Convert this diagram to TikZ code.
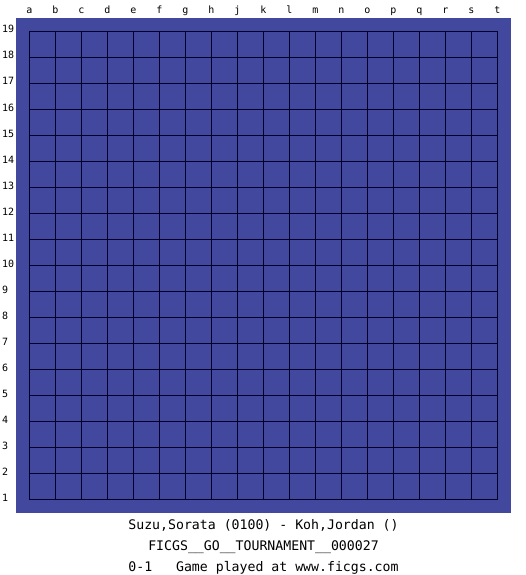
\documentclass[tikz,border=0pt]{standalone}
\usepackage{fontspec}
\setmonofont{DejaVu Sans Mono}
\usepackage{tikz}
\definecolor{boardblue}{RGB}{66,72,158}
\definecolor{gridnavy}{RGB}{0,0,40}
\tikzstyle{collabel}=[font=\ttfamily\fontsize{10}{10}\selectfont,anchor=base,inner sep=0pt]
\tikzstyle{rowlabel}=[font=\ttfamily\fontsize{10}{10}\selectfont,anchor=base west,inner sep=0pt]
\tikzstyle{caption}=[font=\ttfamily\fontsize{13.2}{13.2}\selectfont,anchor=base,inner sep=0pt]
\tikzstyle{gridline}=[gridnavy,line width=1pt]

\begin{document}
\begin{tikzpicture}[x=1pt,y=-1pt]
      \useasboundingbox (0,0) rectangle (525,575);

      % board
      \fill[boardblue] (16,18) rectangle (511,512.5);
      \foreach \i in {0,...,18} {
        \draw[gridline] (29.5+26*\i,31.5) -- (29.5+26*\i,499.5);
        \draw[gridline] (29.5,31.5+26*\i) -- (497.5,31.5+26*\i);
      }

      % coordinates
      \foreach \l [count=\i from 0] in {a,b,c,d,e,f,g,h,j,k,l,m,n,o,p,q,r,s,t}
        \node[collabel] (col-\l) at (29.5+26*\i,14) {\l};
      \foreach \r in {1,...,19}
        \node[rowlabel] (row-\r) at (2,501-26*\r+26) {\r};

      % game info
      \node[caption] (players) at (263.5,529.3) {Suzu,Sorata (0100) - Koh,Jordan ()};
      \node[caption] (event) at (263.5,550.7) {FICGS\_\_GO\_\_TOURNAMENT\_\_000027};
      \node[caption] (result) at (263.5,571.7) {0-1\ \ \ Game played at www.ficgs.com};
    \end{tikzpicture}
\end{document}
